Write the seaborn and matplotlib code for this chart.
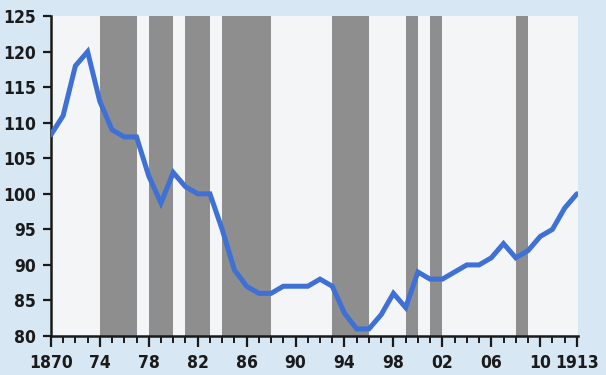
import matplotlib
matplotlib.use("Agg")
import matplotlib.pyplot as plt
from matplotlib.ticker import MultipleLocator, FixedLocator
import seaborn as sns
import pandas as pd

# Annual index, 1870-1913
years = list(range(1870, 1914))
index_values = [
    108.3, 111, 118, 120, 113, 109, 108, 108, 102.5, 98.7,
    103, 101, 100, 100, 95, 89.3, 87, 86, 86, 87,
    87, 87, 88, 87, 83.2, 81, 81, 83, 86, 84,
    89, 88, 88, 89, 90, 90, 91, 93, 91, 92,
    94, 95, 98, 100,
]

# Shaded periods (start year, end year)
band_starts = [1874, 1878, 1881, 1884, 1893, 1899, 1901, 1908]
band_ends = [1877, 1880, 1883, 1888, 1896, 1900, 1902, 1909]

# Axis labels
xtick_years = [1870, 1874, 1878, 1882, 1886, 1890, 1894, 1898, 1902, 1906, 1910, 1913]
xtick_labels = ["1870", "74", "78", "82", "86", "90", "94", "98", "02", "06", "10", "1913"]
ytick_values = [80, 85, 90, 95, 100, 105, 110, 115, 120, 125]

sns.set_theme(style="ticks")
plt.rcParams["font.family"] = ["DejaVu Sans"]
plt.rcParams["font.stretch"] = "condensed"
plt.rcParams["font.weight"] = "bold"

fig = plt.figure(figsize=(6.06, 3.75), dpi=100)
fig.patch.set_facecolor("#d8e7f4")
ax = fig.add_axes([0.084, 0.104, 0.87, 0.853])
ax.set_facecolor("#f3f5f7")

for s, e in zip(band_starts, band_ends):
    ax.axvspan(s, e, color="#8e8e8e", lw=0, zorder=1)

df = pd.DataFrame({"year": years, "index": index_values})
sns.lineplot(data=df, x="year", y="index", ax=ax, color="#3f70d6",
             linewidth=3.6, zorder=3, solid_joinstyle="miter")

ax.set_xlim(1870, 1913.1)
ax.set_ylim(80, 125)
ax.set_xlabel("")
ax.set_ylabel("")

ax.xaxis.set_major_locator(FixedLocator(xtick_years))
ax.set_xticklabels(xtick_labels)
ax.xaxis.set_minor_locator(MultipleLocator(1))
ax.yaxis.set_major_locator(FixedLocator(ytick_values))
ax.set_yticklabels([str(v) for v in ytick_values])

for lbl in ax.get_xticklabels() + ax.get_yticklabels():
    lbl.set_fontstretch("condensed")
    lbl.set_fontweight("bold")

ax.tick_params(axis="x", which="major", length=8, width=1.6, direction="out",
               labelsize=12.5, pad=5, colors="#1a1a1a")
ax.tick_params(axis="x", which="minor", length=5, width=1.4, direction="out",
               colors="#1a1a1a")
ax.tick_params(axis="y", which="major", length=6, width=1.6, direction="out",
               labelsize=12.5, pad=5, colors="#1a1a1a")

for side in ["top", "right"]:
    ax.spines[side].set_visible(False)
for side in ["left", "bottom"]:
    ax.spines[side].set_linewidth(1.8)
    ax.spines[side].set_color("#1a1a1a")

fig.savefig("out.png", dpi=100, facecolor=fig.get_facecolor())
